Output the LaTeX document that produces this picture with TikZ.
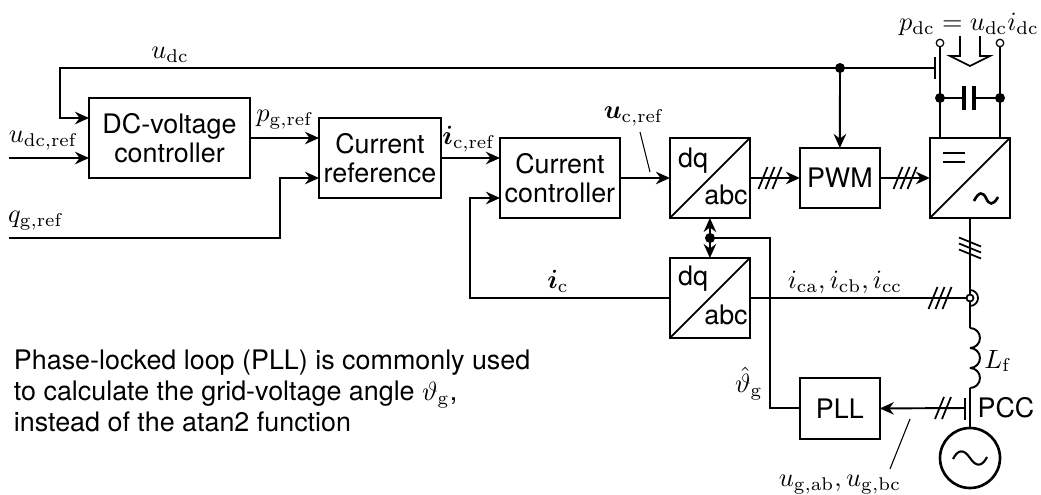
\documentclass[tikz,border=0pt]{standalone}
\usepackage[no-math]{fontspec}
\usepackage{amsmath,bm}
\newfontfamily\helv{TeX Gyre Heros}
\usetikzlibrary{arrows.meta,positioning}
\newcommand{\threeticks}[2]{\foreach \dx in {-7,0,7} \draw[tick] (#1+\dx-4.5,#2+11) -- (#1+\dx+4.5,#2-11);}
\newcommand{\twoticks}[2]{\foreach \dx in {-3.5,3.5} \draw[tick] (#1+\dx-4.5,#2+11) -- (#1+\dx+4.5,#2-11);}
\begin{document}
\begin{tikzpicture}[x=.02cm,y=-.02cm,>={Stealth[length=2.8mm,width=2.5mm]},line width=1.1pt]
\tikzstyle{box}=[draw,line width=1.5pt,outer sep=0pt,inner sep=0pt,align=center,font=\helv\fontsize{15.3}{16.8}\selectfont,minimum height=1.6cm]
\tikzstyle{conv}=[box,minimum width=1.6cm]
\tikzstyle{tick}=[line width=1pt]
\tikzstyle{dot}=[circle,fill,inner sep=0pt,minimum size=.2cm]
\tikzstyle{term}=[circle,draw,fill=white,line width=.7pt,inner sep=0pt,minimum size=.15cm]
\tikzstyle{lbl}=[inner sep=0pt,scale=1.5]
\tikzstyle{txt}=[inner sep=0pt,font=\helv\fontsize{15.3}{17.6}\selectfont]
\useasboundingbox (0,0) rectangle (1041,494);
% blocks
\node[box,minimum width=3.22cm] (dcctrl) at (169.5,138) {DC-voltage\\controller};
\node[box,minimum width=2.44cm,right=1.38cm of dcctrl,yshift=-.4cm] (curref) {Current\\reference};
\node[box,minimum width=2.4cm,right=1.18cm of curref,yshift=-.4cm] (curctrl) {Current\\controller};
\node[conv,right=1cm of curctrl] (dqtop) {};
\node[box,minimum width=1.6cm,minimum height=1.2cm,right=1cm of dqtop] (pwm) {PWM};
\node[conv,right=1cm of pwm] (conv) {};
\node[conv,below=.8cm of dqtop] (dqbot) {};
\node[box,minimum width=1.6cm,minimum height=1.22cm,below=3.4cm of pwm] (pll) {PLL};
\node[circle,draw,line width=1.5pt,outer sep=0pt,minimum size=1.2cm,inner sep=0pt] (grid) at (970,458) {};
% block insides
\draw[line width=1pt] (dqtop.south west) -- (dqtop.north east);
\draw[line width=1pt] (dqbot.south west) -- (dqbot.north east);
\draw[line width=1pt] (conv.south west) -- (conv.north east);
\node[txt] (dqa) at (693,161) {dq};
\node[txt] (abca) at (726,195) {abc};
\node[txt] (dqb) at (693,279) {dq};
\node[txt] (abcb) at (726,315) {abc};
\draw[line width=1.5pt] (943,153) -- (965,153) (943,162) -- (965,162);
\draw[line width=1.5pt] (974,201) .. controls (979,191) and (983,192) .. (986,198) .. controls (989,205) and (993,206) .. (998,197);
\draw[line width=1.2pt] (953,459) .. controls (958,449) and (964,449) .. (970,458) .. controls (976,467) and (982,467) .. (987,457);
% helper points
\coordinate (udcleft) at (60,68);
\coordinate (udctap) at (840,68);
\coordinate (udcend) at (935,68);
\coordinate (termL) at (940,43);
\coordinate (termR) at (1000,43);
\coordinate (capL) at (940,98);
\coordinate (capR) at (1000,98);
\coordinate (meas) at (970,298);
\coordinate (angle) at (710,238);
% signals
\draw (conv.north -| termL) -- (termL);
\draw (conv.north -| termR) -- (termR);
\draw[->] (udcend) -- (udcleft) |- (89,118);
\draw[line width=1.2pt] (935,57) -- (935,79);
\draw[->] (udctap) -- (pwm.north);
\node[dot] (dota) at (udctap) {};
\node[dot] (dotb) at (capL) {};
\node[dot] (dotc) at (capR) {};
\node[dot] (dotd) at (angle) {};
\node[term] (terma) at (termL) {};
\node[term] (termb) at (termR) {};
\draw (capL) -- (964,98) (974,98) -- (capR);
\draw[line width=2.6pt] (964,86) -- (964,110) (974,86) -- (974,110);
\draw[line width=1pt] (960,36) -- (960,56) -- (950,56) -- (970,66) -- (990,56) -- (980,56) -- (980,36);
\draw[->] (9,158) -- (89,158);
\draw[->] (dcctrl.east) -- (curref.west |- dcctrl.east);
\draw[->] (9,238) -- (280,238) |- (319,178);
\draw[->] (curref.east) -- (curctrl.west |- curref.east);
\draw[->] (curctrl.east) -- (dqtop.west);
\draw[->] (dqtop.east) -- (pwm.west);
\draw[->] (pwm.east) -- (conv.west);
\draw[->] (dqbot.west) -- (470,298) |- (500,198);
\draw[<->] (dqtop.south) -- (dqbot.north);
\draw (angle) -- (770,238) |- (pll.west);
\draw (dqbot.east) -- (meas);
\draw (conv.south -| grid) -- (meas);
\draw (meas) -- (970,328);
\draw (970,388) -- (grid.north);
\foreach \ya in {328,348,368} \draw (970,\ya) arc[start angle=90,end angle=-90,radius=.2cm];
\draw[->] (965,408) -- (pll.east);
\draw[line width=1.2pt] (965,398) -- (965,420);
\node[circle,draw,fill=white,line width=1pt,inner sep=0pt,minimum size=.14cm] (measdot) at (meas) {};
\draw[line width=1pt] (970,290) arc[start angle=90,end angle=-90,radius=.16cm];
\threeticks{770}{178}
\threeticks{905}{178}
\threeticks{940}{298}
\twoticks{943}{408}
\foreach \dy in {-6,0,6} \draw[tick] (959,248+\dy-4.5) -- (981,248+\dy+4.5);
\draw[line width=.6pt] (640,132) -- (650,172);
\draw[line width=.6pt] (910,419) -- (890,469);
% labels
\node[lbl] (lpdc) at (969,24) {$p_\mathrm{dc}=u_\mathrm{dc}i_\mathrm{dc}$};
\node[lbl] (ludc) at (170,55) {$u_\mathrm{dc}$};
\node[lbl] (ludcref) at (43.5,141) {$u_\mathrm{dc,ref}$};
\node[lbl] (lqref) at (36,221) {$q_\mathrm{g,ref}$};
\node[lbl] (lpref) at (285,120) {$p_\mathrm{g,ref}$};
\node[lbl] (liref) at (469,139) {$\bm{i}_\mathrm{c,ref}$};
\node[lbl] (luref) at (634,116) {$\bm{u}_\mathrm{c,ref}$};
\node[lbl] (lic) at (558,281) {$\bm{i}_\mathrm{c}$};
\node[lbl] (liabc) at (845,282) {$i_\mathrm{ca},i_\mathrm{cb},i_\mathrm{cc}$};
\node[lbl] (lLf) at (998,361) {$L_\mathrm{f}$};
\node[txt] (lpcc) at (1006,408) {PCC};
\node[lbl] (ltheta) at (749,384) {$\hat{\vartheta}_\mathrm{g}$};
\node[lbl] (lug) at (840,485) {$u_\mathrm{g,ab},u_\mathrm{g,bc}$};
\node[txt,anchor=north west,align=left] (note) at (13,349) {Phase-locked loop (PLL) is commonly used\\to calculate the grid-voltage angle \scalebox{1.5}{\normalsize$\vartheta_\mathrm{g}$},\\instead of the atan2 function};
\end{tikzpicture}
\end{document}
